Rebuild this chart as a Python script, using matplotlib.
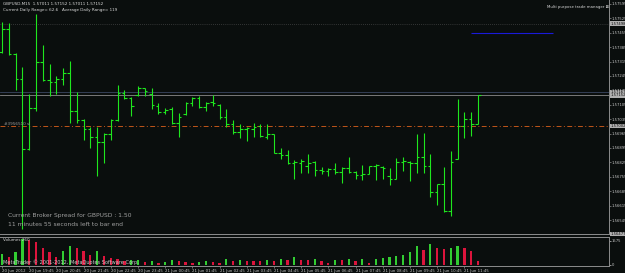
import matplotlib
matplotlib.use("Agg")
import matplotlib.pyplot as plt
import numpy as np
from matplotlib.transforms import blended_transform_factory

symbol = "GBPUSD,M15"

open_ = [1.57361, 1.57473, 1.57352, 1.57230, 1.56890, 1.57089, 1.57313, 1.57225, 1.57215, 1.57230,
         1.57259, 1.57075, 1.57031, 1.56987, 1.56948, 1.56924, 1.56963, 1.57031, 1.57162, 1.57138,
         1.57152, 1.57186, 1.57157, 1.57099, 1.57070, 1.57084, 1.57016, 1.57060, 1.57113, 1.57138,
         1.57094, 1.57118, 1.57104, 1.57045, 1.57011, 1.56972, 1.56987, 1.56987, 1.57002, 1.56948,
         1.56963, 1.56870, 1.56861, 1.56822, 1.56822, 1.56807, 1.56827, 1.56788, 1.56783, 1.56793,
         1.56778, 1.56798, 1.56778, 1.56763, 1.56768, 1.56807, 1.56802, 1.56759, 1.56744, 1.56827,
         1.56827, 1.56822, 1.56851, 1.56807, 1.56681, 1.56720, 1.56589, 1.56841, 1.57002, 1.57036,
         1.57011]
high = [1.57507, 1.57502, 1.57356, 1.57288, 1.57157, 1.57546, 1.57395, 1.57303, 1.57245, 1.57284,
        1.57318, 1.57167, 1.57036, 1.56997, 1.56997, 1.56968, 1.57036, 1.57201, 1.57177, 1.57143,
        1.57196, 1.57186, 1.57186, 1.57113, 1.57089, 1.57094, 1.57065, 1.57118, 1.57143, 1.57147,
        1.57118, 1.57152, 1.57109, 1.57084, 1.57031, 1.57011, 1.56997, 1.57016, 1.57011, 1.57011,
        1.56963, 1.56895, 1.56885, 1.56836, 1.56841, 1.56866, 1.56832, 1.56802, 1.56798, 1.56822,
        1.56802, 1.56851, 1.56783, 1.56812, 1.56807, 1.56817, 1.56807, 1.56798, 1.56846, 1.56851,
        1.56832, 1.56963, 1.56968, 1.56866, 1.56720, 1.56802, 1.56880, 1.57133, 1.57070, 1.57070,
        1.57152]
low = [1.57356, 1.57347, 1.57177, 1.56501, 1.56885, 1.57075, 1.57220, 1.57147, 1.57157, 1.57201,
       1.57016, 1.57016, 1.56934, 1.56895, 1.56759, 1.56822, 1.56934, 1.57026, 1.57133, 1.57050,
       1.57147, 1.57147, 1.57084, 1.57060, 1.57060, 1.57011, 1.56948, 1.57055, 1.57099, 1.57089,
       1.57075, 1.57099, 1.57036, 1.56997, 1.56963, 1.56943, 1.56929, 1.56948, 1.56948, 1.56938,
       1.56870, 1.56841, 1.56817, 1.56744, 1.56773, 1.56773, 1.56759, 1.56768, 1.56759, 1.56768,
       1.56725, 1.56773, 1.56744, 1.56739, 1.56768, 1.56739, 1.56744, 1.56715, 1.56744, 1.56783,
       1.56734, 1.56773, 1.56773, 1.56657, 1.56618, 1.56584, 1.56564, 1.56841, 1.56943, 1.56953,
       1.57011]
close = [1.57473, 1.57352, 1.57230, 1.56890, 1.57089, 1.57313, 1.57225, 1.57215, 1.57230, 1.57259,
         1.57075, 1.57031, 1.56987, 1.56948, 1.56924, 1.56963, 1.57031, 1.57162, 1.57138, 1.57099,
         1.57186, 1.57172, 1.57104, 1.57070, 1.57079, 1.57016, 1.57045, 1.57113, 1.57138, 1.57094,
         1.57113, 1.57113, 1.57045, 1.57011, 1.56972, 1.56987, 1.56992, 1.56997, 1.56953, 1.56963,
         1.56870, 1.56861, 1.56822, 1.56827, 1.56832, 1.56822, 1.56788, 1.56783, 1.56793, 1.56778,
         1.56798, 1.56778, 1.56763, 1.56768, 1.56807, 1.56812, 1.56798, 1.56744, 1.56827, 1.56832,
         1.56822, 1.56851, 1.56807, 1.56681, 1.56720, 1.56589, 1.56827, 1.57002, 1.57036, 1.57011,
         1.57152]
volume = [720, 520, 850, 1700, 1620, 1500, 1100, 850, 520, 910,
          1240, 1100, 900, 650, 900, 590, 460, 400, 270, 300,
          330, 220, 260, 150, 190, 330, 270, 220, 150, 200,
          260, 200, 150, 390, 260, 330, 260, 250, 240, 330,
          260, 390, 330, 520, 340, 325, 390, 260, 130, 330,
          310, 390, 260, 390, 130, 390, 455, 520, 585, 650,
          845, 1235, 975, 1365, 1105, 1040, 1105, 1235, 1105, 910,
          260]

time_labels = ["20 Jun 2012", "20 Jun 19:45", "20 Jun 20:45", "20 Jun 21:45", "20 Jun 22:45",
               "20 Jun 23:45", "21 Jun 00:45", "21 Jun 01:45", "21 Jun 02:45", "21 Jun 03:45",
               "21 Jun 04:45", "21 Jun 05:45", "21 Jun 06:45", "21 Jun 07:45", "21 Jun 08:45",
               "21 Jun 09:45", "21 Jun 10:45", "21 Jun 11:45"]
time_label_bars = [0, 4, 8, 12, 16, 20, 24, 28, 32, 36, 40, 44, 48, 52, 56, 60, 64, 68]

price_ticks = [1.57595, 1.57525, 1.57455, 1.57385, 1.57315, 1.57245, 1.57175, 1.57105,
               1.57035, 1.56965, 1.56895, 1.56825, 1.56755, 1.56685, 1.56615, 1.56545]
price_top, price_bottom = 1.57614, 1.56477
volume_ticks = [0, 1575]

dotted_level = 1.57498
blue_level = 1.57454
blue_span = [69, 81]
orange_level = 1.57002
spread = 0.00015

bg = "#0a0e0d"
bar_col = "#1ee61e"
txt = "#c8c8c8"
gray = "#8c8c8c"

W, H = 625, 273
fig = plt.figure(figsize=(W / 100, H / 100), dpi=100, facecolor=bg)
step = 6.8
xl = (-2 / step, 607 / step)
lab_fs = 2.7

ax = fig.add_axes([0, 1 - 234 / H, 609 / W, 234 / H])
ax.set_facecolor(bg)
ax.set_xlim(*xl)
ax.set_ylim(price_bottom, price_top)
for s in ["left", "top"]:
    ax.spines[s].set_visible(False)
ax.spines["right"].set_color(gray)
ax.spines["bottom"].set_color(gray)
ax.spines["right"].set_linewidth(0.7)
ax.spines["bottom"].set_linewidth(0.7)
ax.set_xticks([])
ax.yaxis.tick_right()
ax.set_yticks(price_ticks)
ax.set_yticklabels([f"{p:.5f}" for p in price_ticks])
ax.tick_params(axis="y", colors=txt, labelsize=lab_fs, length=1.5, width=0.5, pad=0.6)
ax.tick_params(axis="y", color=gray)

n = len(open_)
x = np.arange(n)
ax.axhline(dotted_level, color="#5a5a5a", lw=0.5, linestyle=(0, (1, 2)))
ax.hlines(blue_level, blue_span[0], blue_span[1], color="#1a1ad8", lw=0.8)
ax.axhline(orange_level, color="#c0561a", lw=0.7, linestyle=(0, (5, 2.5, 1, 2.5)))
ax.axhline(close[-1] + spread, color="#3a4560", lw=0.6)
ax.axhline(close[-1], color="#8a8a8a", lw=0.6)

ax.vlines(x, low, high, color=bar_col, lw=0.8)
ax.hlines(open_, x - 0.38, x, color=bar_col, lw=0.8)
ax.hlines(close, x, x + 0.38, color=bar_col, lw=0.8)

tr = blended_transform_factory(ax.transAxes, ax.transData)
for lvl in [dotted_level, close[-1] + spread, close[-1], orange_level, price_bottom]:
    ax.text(1.003, lvl, f"{lvl:.5f}", transform=tr, ha="left", va="center", fontsize=lab_fs,
            color="#101010", bbox=dict(boxstyle="square,pad=0.12", fc="#b0b0b0", ec="none"),
            zorder=5)

# volume window
av = fig.add_axes([0, 1 - 266 / H, 609 / W, 29 / H])
av.set_facecolor(bg)
av.set_xlim(*xl)
vpp = 1575 / 24
av.set_ylim(-vpp, 1575 + 4 * vpp)
av.spines["left"].set_visible(False)
for s in ["right", "top", "bottom"]:
    av.spines[s].set_color(gray)
    av.spines[s].set_linewidth(0.7)
vcols = ["#32cd32"] + ["#32cd32" if volume[i] > volume[i - 1] else "#dc143c" for i in range(1, n)]
av.bar(x, volume, width=2.2 / step, color=vcols)
av.yaxis.tick_right()
av.set_yticks(volume_ticks)
av.set_yticklabels([str(v) for v in volume_ticks])
av.tick_params(axis="y", colors=txt, labelsize=lab_fs, length=1.5, width=0.5, pad=0.6)
av.set_xticks(time_label_bars)
av.set_xticklabels(time_labels)
for lab in av.get_xticklabels():
    lab.set_horizontalalignment("left")
av.tick_params(axis="x", colors=txt, labelsize=2.8, length=1.5, width=0.5, pad=0.6)
av.tick_params(axis="x", color=gray)

def ftext(px, py, s, **kw):
    fig.text(px / W, 1 - py / H, s, va="center", ha="left", **kw)

ftext(3, 4, f"{symbol}  {open_[-1]:.5f} {high[-1]:.5f} {low[-1]:.5f} {close[-1]:.5f}",
      fontsize=3.0, color="#d8d8d8")
ftext(3, 10, "Current Daily Range= 62.6   Average Daily Range= 119", fontsize=3.0, color="#d8d8d8")
ftext(547, 7, "Multi purpose trade manager \u22a0", fontsize=2.8, color="#d8d8d8")
ftext(4, 124, "#3956510 sl", fontsize=3.0, color="#9a9a9a")
ftext(8, 216, "Current Broker Spread for GBPUSD : 1.50", fontsize=4.3, color="#a0a0a0")
ftext(8, 224, "11 minutes 55 seconds left to bar end", fontsize=4.3, color="#a0a0a0")
ftext(3, 240, f"Volumes {volume[-1]}", fontsize=3.0, color="#d8d8d8")
ftext(3, 262, "MetaTrader \u00a9 2001-2012, MetaQuotes Software Corp.", fontsize=3.6, color="#c8c8c8")

fig.savefig("out.png", dpi=100, facecolor=bg)
